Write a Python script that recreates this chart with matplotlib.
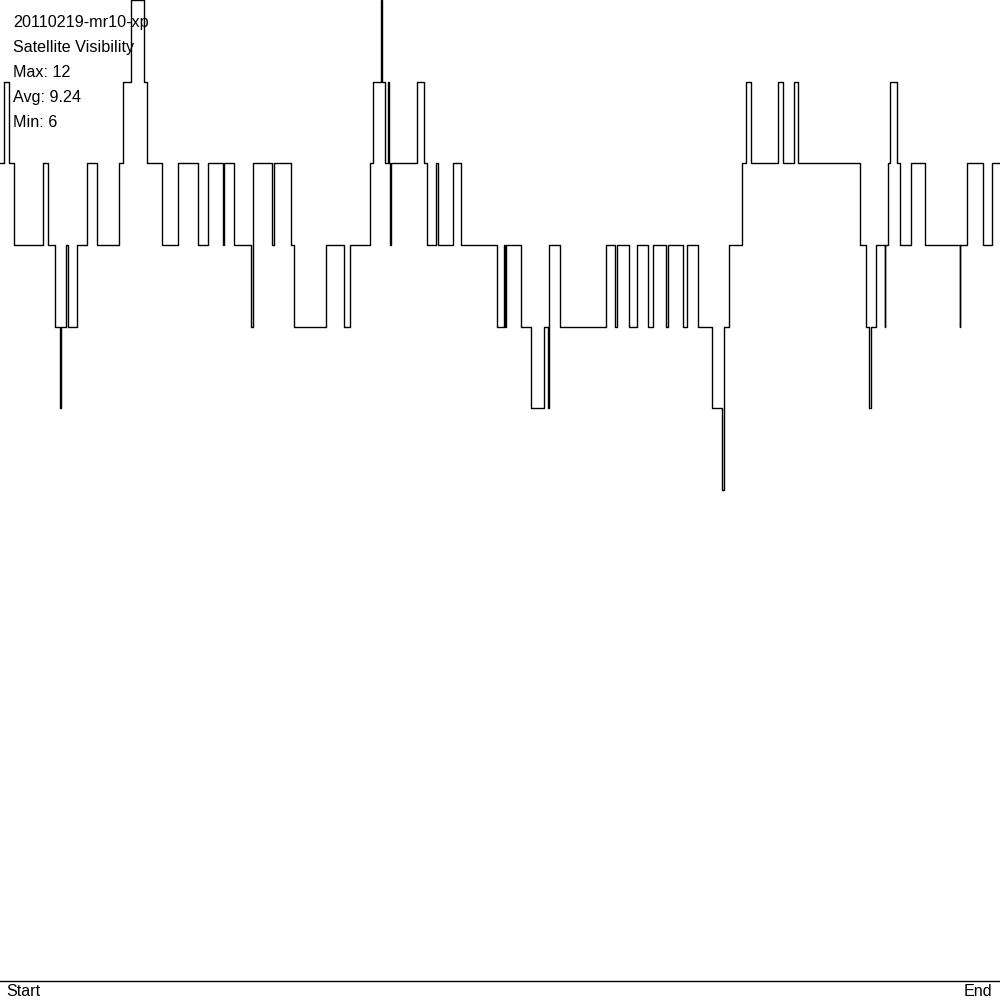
import matplotlib
matplotlib.use("Agg")
import matplotlib.pyplot as plt

# Satellite visibility: change points (time position along track) and satellite count from that point on
times = [0, 4.3, 9, 14.3, 43.3, 47.7, 55.3, 60, 60.5, 65.7, 67.7, 77.3, 86.7, 97.3,
         118.7, 122.7, 130.7, 144, 146.7, 162.3, 178.3, 198.3, 208.3, 223.3, 223.8,
         234.3, 251, 253.3, 272.3, 274.3, 291.3, 294.3, 326.3, 344.3, 350.3, 370.3,
         373.3, 381.3, 382.3, 385.3, 388.3, 389.3, 390.2, 390.7, 416.7, 424.3, 427.3,
         436.3, 438.3, 453.3, 461.3, 497.3, 504.3, 505.3, 506.3, 521.3, 531.3, 544.3,
         548.3, 549.3, 560.3, 606.3, 615.3, 617.3, 629.3, 637.3, 648.3, 653.3, 666.3,
         668.3, 683.3, 687.3, 698.3, 712.3, 722.3, 724.3, 729.3, 742.3, 746.3, 751.3,
         778.3, 783.3, 794.3, 798.3, 860.3, 866.3, 869.3, 871.3, 876.3, 884.5, 885.2,
         888.3, 890.3, 897.3, 900.3, 911.3, 925.3, 959.5, 960.2, 967.3, 983.3, 992.3,
         1000]
counts = [10, 11, 10, 9, 10, 9, 8, 7, 8, 9, 8, 9, 10, 9,
          10, 11, 12, 11, 10, 9, 10, 9, 10, 9, 10,
          9, 8, 10, 9, 10, 9, 8, 9, 8, 9, 10,
          11, 12, 11, 10, 11, 10, 9, 10, 11, 10, 9,
          10, 9, 10, 9, 8, 9, 8, 9, 8, 7, 8,
          7, 9, 8, 9, 8, 9, 8, 9, 8, 9, 8,
          9, 8, 9, 8, 7, 6, 8, 9, 10, 11, 10,
          11, 10, 11, 10, 9, 8, 7, 8, 9, 8, 9,
          10, 11, 10, 9, 10, 9, 8, 9, 10, 9, 10,
          10]

info_lines = ["20110219-mr10-xp", "Satellite Visibility", "Max: 12", "Avg: 9.24", "Min: 6"]
x_labels = ["Start", "End"]

plt.rcParams['font.family'] = ['Liberation Sans', 'DejaVu Sans']

fig = plt.figure(figsize=(10, 10), dpi=100)
fig.patch.set_facecolor('white')
ax = fig.add_axes([0, 0.02, 1, 0.98])
ax.step(times, counts, where='post', color='black', lw=1.0, clip_on=False)
ax.set_xlim(0, 1000)
ax.set_ylim(0, 12)
ax.axis('off')

# baseline axis line
fig.add_artist(plt.Line2D([0, 1], [0.0195, 0.0195], color='black', lw=1.0,
                          transform=fig.transFigure))

for i, t in enumerate(info_lines):
    fig.text(0.013, 1 - (27 + 25 * i) / 1000, t, fontsize=11.6, va='baseline', ha='left')

fig.text(0.006, 1 - 996 / 1000, x_labels[0], fontsize=11.6, va='baseline', ha='left')
fig.text(0.992, 1 - 996 / 1000, x_labels[1], fontsize=11.6, va='baseline', ha='right')

fig.savefig("out.png", dpi=100, facecolor='white')
